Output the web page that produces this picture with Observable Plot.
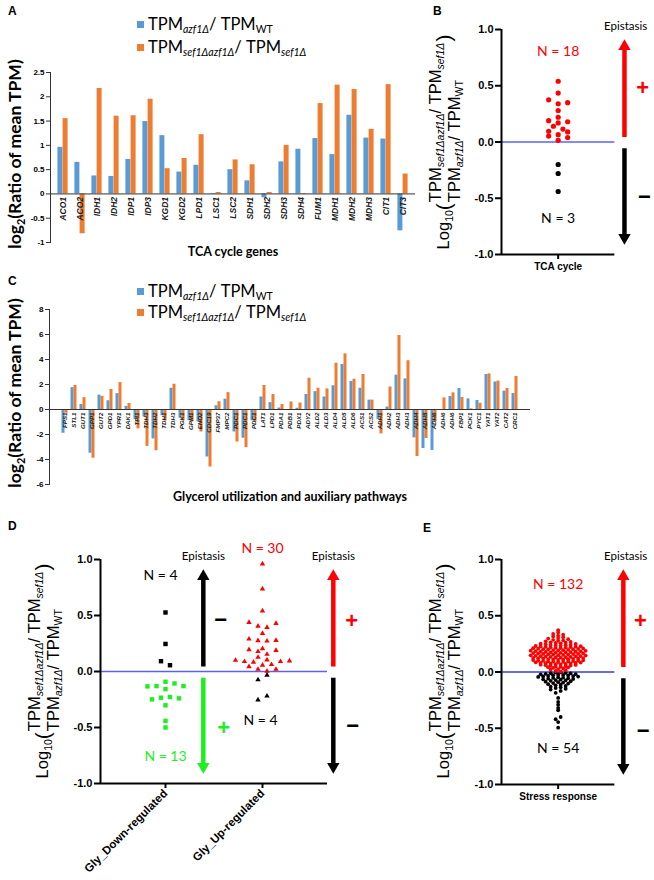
<!DOCTYPE html>
<html>
<head>
<meta charset="utf-8">
<script src="https://cdn.jsdelivr.net/npm/d3@7"></script>
<script src="https://cdn.jsdelivr.net/npm/@observablehq/plot@0.6"></script>
<style>
  html,body{margin:0;padding:0;background:#fff;}
  #fig{position:relative;width:654px;height:880px;overflow:hidden;background:#fff;}
</style>
</head>
<body>
<div id="fig"></div>
<script>
// ---------------- DATA ----------------
const tcaGenes = ["ACO1","ACO2","IDH1","IDH2","IDP1","IDP3","KGD1","KGD2","LPD1","LSC1","LSC2","SDH1","SDH2","SDH3","SDH4","FUM1","MDH1","MDH2","MDH3","CIT1","CIT3"];
const tcaAzf1 =     [0.96, 0.65, 0.37, 0.36, 0.71, 1.49, 1.20, 0.45, 0.59, -0.01, 0.50, 0.27, -0.08, 0.66, 0.92, 1.14, 0.81, 1.62, 1.15, 1.13, -0.76];
const tcaSef1Azf1 = [1.55, -0.82, 2.17, 1.60, 1.61, 1.95, 0.52, 0.73, 1.22, 0.03, 0.70, 0.60, 0.03, 1.00, -0.01, 1.86, 2.24, 2.15, 1.33, 2.25, 0.41];
const tcaTicks = [-1, -0.5, 0, 0.5, 1, 1.5, 2, 2.5];

const glyGenes = ["FPS1","STL1","GUT1","GPP1","GUT2","GPD1","YPR1","DAK1","TPI1","TDH3","TDH2","TDH1","TDH3","PGK1","GPM1","ENO2","CDC19","FMP37","MPC2","PDC1","PDC1","PDC1","LAT1","LPD1","PDA1","PDB1","PDX1","ADY2","ALD2","ALD3","ALD4","ALD5","ALD6","ACS1","ACS2","ADH1","ADH2","ADH3","ADH3","ADH4","ADH5","ADH6","ADH6","ADH6","FBP1","PCK1","PYC1","YAT1","YAT2","CAT2","CRC1"];
const glyAzf1 =     [-1.9, 1.75, 0.4, -3.5, 1.15, 0.7, 1.27, 0.25, -0.8, -0.6, -2.35, -0.5, 1.7, -0.7, -0.9, -1.0, -3.8, 0.3, 0.82, -1.8, -2.3, -0.9, 1.0, 0.55, 0.12, 0.0, 0.1, 1.2, 1.43, 1.0, 1.9, 3.6, 2.25, 1.7, 0.75, -0.8, 0.2, 2.75, 2.45, -2.27, -3.12, -3.28, 0.0, 1.04, 1.68, 0.85, 0.72, 2.8, 2.2, 1.47, 1.28];
const glySef1Azf1 = [-0.3, 1.92, 0.95, -3.9, 1.05, 1.6, 2.15, 0.48, -1.55, -2.95, -3.3, -0.9, 2.02, -0.9, -1.0, -1.8, -4.6, 0.62, 1.35, -2.6, -3.05, -1.0, 1.92, 1.2, 0.4, 0.6, 0.52, 2.5, 1.7, 1.65, 3.7, 4.45, 2.42, 2.8, 0.75, -1.95, 1.8, 5.92, 3.9, -3.76, -2.32, -1.0, 0.93, 1.33, 0.96, 0.05, 0.5, 2.85, 2.27, 1.68, 2.64];
const glyTicks = [-6, -4, -2, 0, 2, 4, 6, 8];

const epiTicks = [-1, -0.5, 0, 0.5, 1];
const tcaEpiPlus = [0.54, 0.435, 0.34, 0.28, 0.22, 0.17, 0.115, 0.065, 0.015, 0.35, 0.19, 0.14, 0.095, 0.053, 0.375, 0.18, 0.09, 0.04];
const tcaEpiMinus = [-0.20, -0.28, -0.44];

const glyGroups = ["Gly_Down-regulated", "Gly_Up-regulated"];
const glyDownMinus = [0.527, 0.246, 0.092, 0.056];
const glyDownPlus = [-0.133, -0.107, -0.092, -0.13, -0.13, -0.157, -0.228, -0.249, -0.234, -0.24, -0.302, -0.441, -0.5];
const glyUpPlus = [0.96, 0.737, 0.541, 0.405, 0.429, 0.438, 0.393, 0.34, 0.272, 0.275, 0.29, 0.278, 0.204, 0.195, 0.178, 0.189, 0.154, 0.127, 0.089, 0.089, 0.10, 0.104, 0.083, 0.095, 0.056, 0.062, 0.044, 0.02, 0.02, 0.003];
const glyUpMinus = [-0.033, -0.074, -0.254, -0.219];

const stressPlus = [0.372, 0.352,
  0.338, 0.331, 0.324,
  0.316, 0.309, 0.303,
  0.297, 0.292, 0.286, 0.281,
  0.278, 0.273, 0.268, 0.264, 0.261,
  0.258, 0.255, 0.252, 0.249, 0.246, 0.243, 0.241,
  0.238, 0.236, 0.234, 0.231, 0.229, 0.227, 0.225, 0.223, 0.221,
  0.219, 0.217, 0.215, 0.213, 0.211, 0.209, 0.207, 0.205, 0.203, 0.201,
  0.199, 0.197, 0.195, 0.194, 0.192, 0.19, 0.188, 0.186, 0.184, 0.182, 0.181,
  0.179, 0.177, 0.175, 0.174, 0.172, 0.17, 0.168, 0.166, 0.164, 0.162, 0.161,
  0.159, 0.157, 0.155, 0.154, 0.152, 0.15, 0.148, 0.146, 0.144, 0.142, 0.141,
  0.139, 0.137, 0.135, 0.134, 0.132, 0.13, 0.128, 0.126, 0.124, 0.122, 0.121,
  0.119, 0.117, 0.115, 0.114, 0.112, 0.11, 0.108, 0.106, 0.104, 0.102, 0.101,
  0.099, 0.097, 0.095, 0.094, 0.092, 0.09, 0.088, 0.086, 0.084, 0.082, 0.081,
  0.078, 0.076, 0.074, 0.071, 0.069, 0.067, 0.065, 0.063, 0.061,
  0.058, 0.055, 0.052, 0.049, 0.046, 0.043, 0.041,
  0.037, 0.031, 0.026, 0.022,
  0.016, 0.009, 0.004];
const stressMinus = [-0.002, -0.005, -0.008, -0.011, -0.013, -0.016, -0.019,
  -0.021, -0.024, -0.026, -0.029, -0.031, -0.034, -0.036, -0.039,
  -0.041, -0.044, -0.047, -0.05, -0.053, -0.056, -0.059,
  -0.062, -0.065, -0.068, -0.072, -0.075, -0.078,
  -0.082, -0.086, -0.09, -0.094, -0.098,
  -0.103, -0.108, -0.113, -0.118,
  -0.124, -0.13, -0.136,
  -0.143, -0.149, -0.156,
  -0.168, -0.185,
  -0.23, -0.265, -0.29, -0.32, -0.34,
  -0.4, -0.42, -0.445, -0.495];

// ---------------- STYLE ----------------
const BLUE = "#5B9BD5", ORANGE = "#ED7D31", RED = "#ff0000", GREEN = "#1fee1f", BLACK = "#000", LINEBLUE = "#6060f0";
const ARIAL = "'Liberation Sans', Arial, sans-serif";
const LATO = "Lato, 'Open Sans', sans-serif";
const fig = document.getElementById("fig");
function place(node, left, top) {
  node.style.position = "absolute"; node.style.left = left + "px"; node.style.top = top + "px";
  fig.appendChild(node); return node;
}
const baseStyle = {background: "none", overflow: "visible", fontFamily: ARIAL};

// ---------------- BAR PANELS (A, C) ----------------
function barPanel({genes, a, b, ticks, width, height, mt, mb, ml, mr, barPx, labelSize, tickFont}) {
  const rows = genes.map((g, i) => ({i, g, a: a[i], b: b[i]}));
  const step = (width - ml - mr) / genes.length;
  const pin = 1 - barPx / step;
  return Plot.plot({
    width, height, marginTop: mt, marginBottom: mb, marginLeft: ml, marginRight: mr,
    style: baseStyle,
    x: {type: "band", domain: rows.map(r => r.i), paddingInner: pin, paddingOuter: pin / 2, axis: null, label: null},
    y: {domain: [ticks[0], ticks[ticks.length - 1]], label: null},
    marks: [
      Plot.barY(rows, {x: "i", y: "a", fill: BLUE, dx: -barPx / 2}),
      Plot.barY(rows, {x: "i", y: "b", fill: ORANGE, dx: barPx / 2}),
      Plot.ruleY([0], {stroke: "#333", strokeWidth: 1}),
      Plot.frame({anchor: "left", stroke: "#333"}),
      Plot.axisY(ticks, {tickSize: 4, tickPadding: 2, tickFormat: d => String(d), fontSize: tickFont, fontWeight: "bold", stroke: "#333", label: null}),
      Plot.text(rows, {x: "i", y: 0, text: "g", rotate: -90, textAnchor: "end", dy: 3, fontSize: labelSize, fontStyle: "italic", fontWeight: "bold", fill: "#222"})
    ]
  });
}

place(barPanel({genes: tcaGenes, a: tcaAzf1, b: tcaSef1Azf1, ticks: tcaTicks,
  width: 430, height: 200, mt: 12, mb: 18, ml: 50, mr: 15, barPx: 5.2, labelSize: 8.5, tickFont: 8}), 0, 60);
place(barPanel({genes: glyGenes, a: glyAzf1, b: glySef1Azf1, ticks: glyTicks,
  width: 540, height: 190, mt: 9, mb: 6, ml: 49, mr: 10, barPx: 3, labelSize: 6.2, tickFont: 8}), 0, 300);

// ---------------- SWARM HELPERS ----------------
function swarm(values, cat, bin, spacing, color) {
  const sorted = values.slice().sort((p, q) => Math.abs(p) - Math.abs(q));
  const pts = [];
  let row = [];
  const flush = () => {
    const n = row.length;
    const pos = [];
    if (n % 2) { pos.push(0); for (let k = 1; pos.length < n; k++) { pos.push(k); if (pos.length < n) pos.push(-k); } }
    else { for (let k = 0.5; pos.length < n; k++) { pos.push(k); pos.push(-k); } }
    row.forEach((v, j) => pts.push({x: cat + pos[j] * spacing, y: v, c: color}));
    row = [];
  };
  for (const v of sorted) { if (row.length && Math.abs(v) - Math.abs(row[0]) >= bin) flush(); row.push(v); }
  flush();
  return pts;
}
function epiArrows(x, upColor, downColor) {
  return [
    Plot.ruleX([{x, y1: 0.04, y2: 0.85}], {x: "x", y1: "y1", y2: "y2", stroke: upColor, strokeWidth: 4.5}),
    Plot.dot([{x, y: 0.85}], {x: "x", y: "y", symbol: "triangle", r: 4.6, fill: upColor}),
    Plot.ruleX([{x, y1: -0.06, y2: -0.85}], {x: "x", y1: "y1", y2: "y2", stroke: downColor, strokeWidth: 4.5}),
    Plot.dot([{x, y: -0.85}], {x: "x", y: "y", symbol: "triangle", r: 4.6, fill: downColor, rotate: 180})
  ];
}
function label(txt, x, y, color, size, opts = {}) {
  return Plot.text([txt], {x: () => x, y: () => y, text: d => d, fill: color, fontSize: size, fontFamily: LATO, ...opts});
}
function epiAxes(xMin, xMax, cats, rotate) {
  return [
    Plot.ruleX([xMin], {y1: -1, y2: 1, strokeWidth: 2}),
    Plot.ruleY([-1], {x1: xMin, x2: xMax, strokeWidth: 2}),
    Plot.axisY(epiTicks, {tickSize: 6, tickPadding: 2, strokeWidth: 2, tickFormat: d => d.toFixed(1), fontSize: 11, fontWeight: "bold", label: null}),
    Plot.axisX(cats.map((c, i) => i), {tickSize: 5, tickPadding: 3, strokeWidth: 2, tickFormat: i => cats[i], fontSize: rotate ? 11.5 : 10, fontWeight: "bold", tickRotate: rotate || 0, label: null})
  ];
}

// ---------------- PANEL B ----------------
const EW = 214, EH = 290, EML = 61, EMR = 0, EMT = 29, EMB = 36;
const eX = [-1, 1.7];
const ePx = (EW - EML - EMR) / (eX[1] - eX[0]);
const bPts = [...swarm(tcaEpiMinus, 0, 0.045, 9.5 / ePx, BLACK), ...swarm(tcaEpiPlus, 0, 0.045, 9.5 / ePx, RED)];
place(Plot.plot({
  width: EW, height: EH, marginLeft: EML, marginRight: EMR, marginTop: EMT, marginBottom: EMB,
  style: baseStyle, x: {domain: eX, label: null}, y: {domain: [-1, 1], label: null}, color: {type: "identity"},
  marks: [
    Plot.ruleY([0], {x1: -1, x2: 1, stroke: LINEBLUE, strokeWidth: 1.5}),
    Plot.dot(bPts, {x: "x", y: "y", fill: "c", r: 2.6}),
    ...epiAxes(-1, 1, ["TCA cycle"]),
    ...epiArrows(1.17, RED, BLACK),
    label("Epistasis", 1.19, 1.03, BLACK, 11.5),
    label(`N = ${tcaEpiPlus.length}`, 0, 0.8, RED, 14),
    label(`N = ${tcaEpiMinus.length}`, 0, -0.68, BLACK, 14),
    label("+", 1.49, 0.48, RED, 22, {fontWeight: "bold", fontFamily: ARIAL}),
    label("−", 1.52, -0.49, BLACK, 22, {fontWeight: "bold", fontFamily: ARIAL})
  ]
}), 440, 0);

// ---------------- PANEL D ----------------
const DW = 370, DH = 350, DML = 100, DMR = 11, DMT = 29, DMB = 97;
const dX = [-0.67, 2.0];
const dPx = (DW - DML - DMR) / (dX[1] - dX[0]);
const dSq = [...swarm(glyDownPlus, 0, 0.045, 9 / dPx, GREEN), ...swarm(glyDownMinus, 0, 0.045, 9 / dPx, BLACK)];
const dTri = [...swarm(glyUpPlus, 1, 0.045, 9 / dPx, RED), ...swarm(glyUpMinus, 1, 0.045, 9 / dPx, BLACK)];
place(Plot.plot({
  width: DW, height: DH, marginLeft: DML, marginRight: DMR, marginTop: DMT, marginBottom: DMB,
  style: baseStyle, x: {domain: dX, label: null}, y: {domain: [-1, 1], label: null}, color: {type: "identity"},
  marks: [
    Plot.ruleY([0], {x1: dX[0], x2: 1.67, stroke: LINEBLUE, strokeWidth: 1.5}),
    Plot.dot(dSq, {x: "x", y: "y", fill: "c", symbol: "square", r: 2.5}),
    Plot.dot(dTri, {x: "x", y: "y", fill: "c", symbol: "triangle", r: 2.0}),
    ...epiAxes(dX[0], 1.67, glyGroups, -45),
    ...epiArrows(0.39, BLACK, GREEN),
    ...epiArrows(1.73, RED, BLACK),
    label("Epistasis", 0.39, 1.03, BLACK, 11.5),
    label("Epistasis", 1.73, 1.03, BLACK, 11.5),
    label(`N = ${glyDownMinus.length}`, -0.05, 0.855, BLACK, 14),
    label(`N = ${glyDownPlus.length}`, 0, -0.76, GREEN, 14),
    label(`N = ${glyUpPlus.length}`, 1, 1.10, RED, 14),
    label(`N = ${glyUpMinus.length}`, 0.98, -0.44, BLACK, 14),
    label("−", 0.57, 0.46, BLACK, 22, {fontWeight: "bold", fontFamily: ARIAL}),
    label("+", 0.6, -0.5, GREEN, 22, {fontWeight: "bold", fontFamily: ARIAL}),
    label("+", 1.92, 0.45, RED, 22, {fontWeight: "bold", fontFamily: ARIAL}),
    label("−", 1.93, -0.49, BLACK, 22, {fontWeight: "bold", fontFamily: ARIAL})
  ]
}), 0, 530);

// ---------------- PANEL E ----------------
const ePts = [...swarm(stressMinus, 0, 0.02, 5 / ePx, BLACK), ...swarm(stressPlus, 0, 0.02, 5 / ePx, RED)];
place(Plot.plot({
  width: EW, height: EH, marginLeft: EML, marginRight: EMR, marginTop: EMT, marginBottom: EMB,
  style: baseStyle, x: {domain: eX, label: null}, y: {domain: [-1, 1], label: null}, color: {type: "identity"},
  marks: [
    Plot.ruleY([0], {x1: -1, x2: 1, stroke: "#3a3ad8", strokeWidth: 1.5}),
    Plot.dot(ePts, {x: "x", y: "y", fill: "c", r: 1.9}),
    ...epiAxes(-1, 1, ["Stress response"]),
    ...epiArrows(1.15, RED, BLACK),
    label("Epistasis", 1.19, 1.03, BLACK, 11.5),
    label(`N = ${stressPlus.length}`, 0, 0.78, RED, 14),
    label(`N = ${stressMinus.length}`, 0, -0.68, BLACK, 14),
    label("+", 1.45, 0.45, RED, 22, {fontWeight: "bold", fontFamily: ARIAL}),
    label("−", 1.5, -0.52, BLACK, 22, {fontWeight: "bold", fontFamily: ARIAL})
  ]
}), 440, 530);

// ---------------- TEXT OVERLAY ----------------
const over = d3.select(fig).append("svg").attr("width", 654).attr("height", 880)
  .style("position", "absolute").style("left", "0px").style("top", "0px").style("overflow", "visible");

// panel letters
[["A", 8, 15], ["B", 433, 15], ["C", 8, 285], ["D", 8, 530], ["E", 423, 532]].forEach(([t, x, y]) =>
  over.append("text").attr("x", x).attr("y", y).attr("font-family", ARIAL).attr("font-weight", "bold").attr("font-size", 12).text(t));

// parts: [text, isSubscript, isItalic]
const legAzf = [["TPM"], ["azf1Δ", 1, 1], ["/ TPM"], ["WT", 1, 0]];
const legSef = [["TPM"], ["sef1Δazf1Δ", 1, 1], ["/ TPM"], ["sef1Δ", 1, 1]];
function richText(t, parts, subSize, shift) {
  let down = false;
  parts.forEach(([s, sub, it]) => {
    const ts = t.append("tspan").text(s);
    if (sub) { ts.attr("font-size", subSize).attr("dy", shift); if (it) ts.attr("font-style", "italic"); down = true; }
    else if (down) { ts.attr("dy", -shift); down = false; }
  });
  return t;
}
function legendRow(x, y, color, parts) {
  over.append("rect").attr("x", x).attr("y", y - 9).attr("width", 7).attr("height", 7).attr("fill", color);
  const t = over.append("text").attr("x", x + 11).attr("y", y).attr("font-family", LATO).attr("font-size", 16.5);
  richText(t, parts, 10.5, 3);
}
legendRow(137, 30, BLUE, legAzf);
legendRow(137, 53, ORANGE, legSef);
legendRow(137, 297, BLUE, legAzf);
legendRow(137, 318, ORANGE, legSef);

// bar-panel titles
function yTitle(cx, cy) {
  const t = over.append("text").attr("transform", `translate(${cx},${cy}) rotate(-90)`).attr("text-anchor", "middle")
    .attr("font-family", LATO).attr("font-weight", "bold").attr("font-size", 17.5);
  t.append("tspan").text("log");
  t.append("tspan").attr("font-size", 11).attr("dy", 4).text("2");
  t.append("tspan").attr("dy", -4).text("(Ratio of mean TPM)");
}
yTitle(21, 154);
yTitle(21, 393);
over.append("text").attr("x", 233).attr("y", 256).attr("text-anchor", "middle").attr("font-family", LATO).attr("font-weight", "bold").attr("font-size", 12.5).text("TCA cycle genes");
over.append("text").attr("x", 290).attr("y", 501).attr("text-anchor", "middle").attr("font-family", LATO).attr("font-weight", "bold").attr("font-size", 12.5).text("Glycerol utilization and auxiliary pathways");

// ratio y-axis labels for B, D, E
function ratioLabel(cx, cy) {
  const g = over.append("g").attr("transform", `translate(${cx},${cy}) rotate(-90)`)
    .attr("font-family", ARIAL).attr("font-size", 16.5);
  const inner = g.append("g");
  const t1 = inner.append("text").attr("y", 0);
  t1.append("tspan").text("Log");
  t1.append("tspan").attr("font-size", 10.5).attr("dy", 4).text("10");
  t1.append("tspan").attr("dy", -2).attr("font-size", 21).text("(");
  const w1 = t1.node().getComputedTextLength();
  const num = richText(inner.append("text").attr("x", w1 + 1).attr("y", -8), legSef, 10.5, 3);
  const den = richText(inner.append("text").attr("x", w1 + 1).attr("y", 11), legAzf, 10.5, 3);
  const wn = num.node().getComputedTextLength(), wd = den.node().getComputedTextLength();
  const close = inner.append("text").attr("x", w1 + 2 + Math.max(wn, wd)).attr("y", 2).attr("font-size", 21).text(")");
  const total = w1 + 2 + Math.max(wn, wd) + close.node().getComputedTextLength();
  inner.attr("transform", `translate(${-total / 2},0)`);
}
ratioLabel(449, 142);
ratioLabel(48, 671);
ratioLabel(449, 671);
</script>
</body>
</html>
